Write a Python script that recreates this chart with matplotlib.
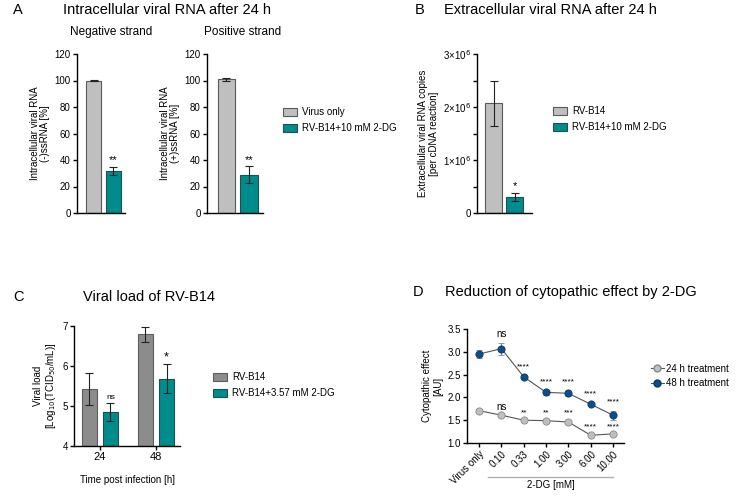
import numpy as np
import matplotlib
matplotlib.use('Agg')
import matplotlib.pyplot as plt
from matplotlib.patches import Patch
from matplotlib.lines import Line2D
from matplotlib.ticker import MultipleLocator, FuncFormatter

plt.rcParams['font.family'] = ['Liberation Sans', 'DejaVu Sans']
plt.rcParams['axes.linewidth'] = 1.0
plt.rcParams['xtick.major.width'] = 1.0
plt.rcParams['ytick.major.width'] = 1.0
plt.rcParams['xtick.major.size'] = 3
plt.rcParams['ytick.major.size'] = 3

# ---- data ----
# A: intracellular viral RNA (%)
neg_means = [100, 32]
neg_err = [0.3, 3.0]
pos_means = [101, 29]
pos_err = [1.0, 6.5]
a_labels = ['Virus only', 'RV-B14+10 mM 2-DG']
a_stars = ['**', '**']

# B: extracellular viral RNA copies
b_means = [2.07e6, 0.30e6]
b_err = [0.42e6, 0.08e6]
b_labels = ['RV-B14', 'RV-B14+10 mM 2-DG']

# C: viral load
c_times = ['24', '48']
c_virus = [5.42, 6.79]
c_virus_err = [0.40, 0.18]
c_dg = [4.85, 5.68]
c_dg_err = [0.22, 0.36]
c_stars = ['ns', '*']
c_labels = ['RV-B14', 'RV-B14+3.57 mM 2-DG']

# D: cytopathic effect
d_conc = ['Virus only', '0.10', '0.33', '1.00', '3.00', '6.00', '10.00']
d_24 = [1.71, 1.61, 1.50, 1.49, 1.46, 1.17, 1.20]
d_24_err = [0.02, 0.02, 0.02, 0.02, 0.02, 0.02, 0.02]
d_48 = [2.95, 3.07, 2.45, 2.11, 2.09, 1.85, 1.61]
d_48_err = [0.08, 0.13, 0.05, 0.05, 0.05, 0.03, 0.10]
d_24_stars = ['', 'ns', '**', '**', '***', '****', '****']
d_48_stars = ['', 'ns', '****', '****', '****', '****', '****']
d_24_star_y = [0, 1.78, 1.66, 1.66, 1.66, 1.36, 1.36]
d_48_star_y = [0, 3.38, 2.68, 2.34, 2.34, 2.08, 1.90]

LIGHT = '#bfbfbf'
LIGHT_EDGE = '#5a5a5a'
TEAL = '#008c8c'
TEAL_EDGE = '#1f4f4f'
DARKGRAY = '#8c8c8c'
BLUE = '#0c4e8c'

W, H = 738, 499
fig = plt.figure(figsize=(W / 100, H / 100), dpi=100)


def rect(x0, y0, x1, y1):
    return [x0 / W, 1 - y1 / H, (x1 - x0) / W, (y1 - y0) / H]


def style(ax):
    ax.spines['top'].set_visible(False)
    ax.spines['right'].set_visible(False)
    ax.tick_params(labelsize=7, pad=1.5)


TS = 7      # tick / legend size
LS = 7      # axis label size
TITLE = 10.5
SUB = 8.5

ekw = dict(elinewidth=0.8, capsize=3, capthick=0.8, ecolor='#222222')

# ---- panel A ----
fig.text(13 / W, 1 - 10 / H, 'A', fontsize=TITLE, va='center', ha='left')
fig.text(63 / W, 1 - 10 / H, 'Intracellular viral RNA after 24 h', fontsize=TITLE, va='center', ha='left')

for i, (means, err, rng, sub, subx, ylab) in enumerate([
        (neg_means, neg_err, (77, 125), 'Negative strand', 111, 'Intracellular viral RNA\n(-)ssRNA [%]'),
        (pos_means, pos_err, (207, 263), 'Positive strand', 243, 'Intracellular viral RNA\n(+)ssRNA [%]')]):
    ax = fig.add_axes(rect(rng[0], 54, rng[1], 213))
    style(ax)
    ax.bar([0, 1], means, width=0.78, color=[LIGHT, TEAL], edgecolor=[LIGHT_EDGE, TEAL_EDGE],
           linewidth=0.8, yerr=err, error_kw=ekw)
    for x, m, e, s in zip([0, 1], means, err, a_stars):
        if x == 1:
            ax.text(x, m + e + 1, s, ha='center', va='bottom', fontsize=8)
    ax.set_ylim(0, 120)
    ax.set_yticks(range(0, 121, 20))
    ax.set_xlim(-0.85, 1.6)
    ax.set_xticks([])
    ax.set_ylabel(ylab, fontsize=LS, labelpad=3, linespacing=1.1)
    fig.text(subx / W, 1 - 32 / H, sub, fontsize=SUB, ha='center', va='center')

leg_a = [Patch(facecolor=LIGHT, edgecolor=LIGHT_EDGE, lw=0.8, label=a_labels[0]),
         Patch(facecolor=TEAL, edgecolor=TEAL_EDGE, lw=0.8, label=a_labels[1])]
fig.legend(handles=leg_a, loc='center left', bbox_to_anchor=(278 / W, 1 - 120 / H), frameon=False,
           fontsize=TS, handlelength=1.5, handleheight=0.9, handletextpad=0.5, labelspacing=0.6, borderpad=0)

# ---- panel B ----
fig.text(415 / W, 1 - 10 / H, 'B', fontsize=TITLE, va='center', ha='left')
fig.text(444 / W, 1 - 10 / H, 'Extracellular viral RNA after 24 h', fontsize=TITLE, va='center', ha='left')

ax = fig.add_axes(rect(477, 54, 532, 213))
style(ax)
ax.bar([0, 1], b_means, width=0.8, color=[LIGHT, TEAL], edgecolor=[LIGHT_EDGE, TEAL_EDGE],
       linewidth=0.8, yerr=b_err, error_kw=ekw)
ax.text(1, b_means[1] + b_err[1] + 0.03e6, '*', ha='center', va='bottom', fontsize=8)
ax.set_ylim(0, 3e6)
ax.set_yticks([0, 1e6, 2e6, 3e6])
ax.set_yticklabels(['0', '1×10$^6$', '2×10$^6$', '3×10$^6$'], fontsize=7)
ax.yaxis.set_minor_locator(MultipleLocator(0.5e6))
ax.tick_params(axis='y', which='minor', length=3, width=1.0)
ax.set_xlim(-0.8, 1.83)
ax.set_xticks([])
ax.set_ylabel('Extracellular viral RNA copies\n[per cDNA reaction]', fontsize=LS, labelpad=3, linespacing=1.1)

leg_b = [Patch(facecolor=LIGHT, edgecolor=LIGHT_EDGE, lw=0.8, label=b_labels[0]),
         Patch(facecolor=TEAL, edgecolor=TEAL_EDGE, lw=0.8, label=b_labels[1])]
fig.legend(handles=leg_b, loc='center left', bbox_to_anchor=(548 / W, 1 - 119 / H), frameon=False,
           fontsize=TS, handlelength=1.5, handleheight=0.9, handletextpad=0.5, labelspacing=0.6, borderpad=0)

# ---- panel C ----
fig.text(13 / W, 1 - 297 / H, 'C', fontsize=TITLE, va='center', ha='left')
fig.text(83 / W, 1 - 297 / H, 'Viral load of RV-B14', fontsize=TITLE, va='center', ha='left')

ax = fig.add_axes(rect(74, 326, 180, 446))
style(ax)
xc = np.arange(len(c_times))
off = 0.19
bw = 0.27
ax.bar(xc - off, np.array(c_virus) - 4, bottom=4, width=bw, color=DARKGRAY, edgecolor='#5e5e5e',
       linewidth=0.8, yerr=c_virus_err, error_kw=ekw)
ax.bar(xc + off, np.array(c_dg) - 4, bottom=4, width=bw, color=TEAL, edgecolor=TEAL_EDGE,
       linewidth=0.8, yerr=c_dg_err, error_kw=ekw)
for x, m, e, s in zip(xc + off, c_dg, c_dg_err, c_stars):
    if s == 'ns':
        ax.text(x, m + e + 0.05, s, ha='center', va='bottom', fontsize=6)
    else:
        ax.text(x, m + e + 0.03, s, ha='center', va='bottom', fontsize=9)
ax.set_ylim(4, 7)
ax.set_yticks([4, 5, 6, 7])
ax.set_xlim(-0.46, 1.43)
ax.set_xticks(xc)
ax.set_xticklabels(c_times, fontsize=8)
ax.set_ylabel('Viral load\n[Log$_{10}$(TCID$_{50}$/mL)]', fontsize=LS, labelpad=3, linespacing=1.1)
ax.set_xlabel('Time post infection [h]', fontsize=LS, labelpad=9)

leg_c = [Patch(facecolor=DARKGRAY, edgecolor='#5e5e5e', lw=0.8, label=c_labels[0]),
         Patch(facecolor=TEAL, edgecolor=TEAL_EDGE, lw=0.8, label=c_labels[1])]
fig.legend(handles=leg_c, loc='center left', bbox_to_anchor=(208 / W, 1 - 385 / H), frameon=False,
           fontsize=TS, handlelength=1.5, handleheight=0.9, handletextpad=0.5, labelspacing=0.6, borderpad=0)

# ---- panel D ----
fig.text(413 / W, 1 - 292 / H, 'D', fontsize=TITLE, va='center', ha='left')
fig.text(445 / W, 1 - 292 / H, 'Reduction of cytopathic effect by 2-DG', fontsize=TITLE, va='center', ha='left')

ax = fig.add_axes(rect(467, 329, 624, 443))
style(ax)
xd = np.arange(len(d_conc))
ax.errorbar(xd, d_24, yerr=d_24_err, fmt='-o', color='#555555', lw=0.8, ms=5.2,
            mfc=LIGHT, mec='#8a8a8a', mew=0.6, elinewidth=0.8, capsize=2.5, ecolor='#888888', zorder=3)
ax.errorbar(xd, d_48, yerr=d_48_err, fmt='-o', color='#555555', lw=0.8, ms=5.2,
            mfc=BLUE, mec='#0a3a66', mew=0.6, elinewidth=0.8, capsize=2.5, ecolor='#888888', zorder=3)
for x, s, y in zip(xd, d_24_stars, d_24_star_y):
    if s:
        ax.text(x, y, s, ha='center', va='center', fontsize=7 if s == 'ns' else 6)
for x, s, y in zip(xd, d_48_stars, d_48_star_y):
    if s:
        ax.text(x, y, s, ha='center', va='center', fontsize=7 if s == 'ns' else 6)
ax.set_ylim(1.0, 3.5)
ax.set_yticks([1.0, 1.5, 2.0, 2.5, 3.0, 3.5])
ax.yaxis.set_major_formatter(FuncFormatter(lambda v, p: f'{v:.1f}'))
ax.set_xlim(-0.54, 6.49)
ax.set_xticks(xd)
ax.set_xticklabels(d_conc, rotation=45, ha='right', rotation_mode='anchor', fontsize=7)
ax.set_ylabel('Cytopathic effect\n[AU]', fontsize=LS, labelpad=3, linespacing=1.1)
tr = ax.get_xaxis_transform()
ax.plot([0.4, 6.0], [-0.30, -0.30], transform=tr, color='#b0b0b0', lw=1.0, clip_on=False)
ax.text(3.2, -0.37, '2-DG [mM]', transform=tr, ha='center', va='center', fontsize=LS)

leg_d = [Line2D([], [], color='#555555', lw=0.8, marker='o', ms=5, mfc=LIGHT, mec='#8a8a8a', label='24 h treatment'),
         Line2D([], [], color='#555555', lw=0.8, marker='o', ms=5, mfc=BLUE, mec='#0a3a66', label='48 h treatment')]
fig.legend(handles=leg_d, loc='center left', bbox_to_anchor=(646 / W, 1 - 376 / H), frameon=False,
           fontsize=TS, handlelength=1.3, handletextpad=0.3, labelspacing=0.5, borderpad=0)

fig.savefig('out.png', dpi=100)
